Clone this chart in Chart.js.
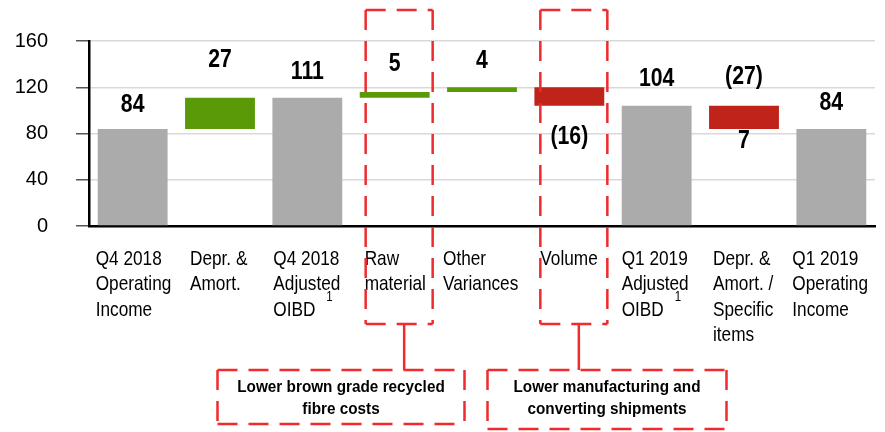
<!DOCTYPE html>
<html>
<head>
<meta charset="utf-8">
<script src="https://cdn.jsdelivr.net/npm/chart.js@4/dist/chart.umd.min.js"></script>
<style>
  html, body { margin: 0; padding: 0; background: #fff; }
  #wrap { width: 885px; height: 432px; position: relative; }
</style>
</head>
<body>
<div id="wrap"><canvas id="bridge"></canvas></div>
<script>
// Operating income bridge, Q4 2018 -> Q1 2019
var categories = [
    ['Q4 2018', 'Operating', 'Income'],
    ['Depr. &', 'Amort.'],
    ['Q4 2018', 'Adjusted', 'OIBD'],
    ['Raw', 'material'],
    ['Other', 'Variances'],
    ['Volume'],
    ['Q1 2019', 'Adjusted', 'OIBD'],
    ['Depr. &', 'Amort. /', 'Specific', 'items'],
    ['Q1 2019', 'Operating', 'Income']
];
var footnotes   = ['', '', '1', '', '', '', '1', '', ''];
var barStart    = [0, 84, 0, 111, 116, 104, 0, 84, 0];
var barEnd      = [84, 111, 111, 116, 120, 120, 104, 104, 84];
var barKind     = ['total', 'up', 'total', 'up', 'up', 'down', 'total', 'down', 'total'];
var labelsAbove = ['84', '27', '111', '5', '4', '', '104', '(27)', '84'];
var labelsBelow = ['', '', '', '', '', '(16)', '', '7', ''];
var yTicks      = [0, 40, 80, 120, 160];

var callouts = [
    { target: 3, lines: ['Lower brown grade recycled', 'fibre costs'] },
    { target: 5, lines: ['Lower manufacturing and', 'converting shipments'] }
];

var KIND_COLORS = { total: '#ABABAB', up: '#5A9A08', down: '#C0231A' };
var FONT = "'Liberation Sans', Arial, sans-serif";
var DASH_RED = '#EF2B2E';

// gap (px) between bar edge and value text
var aboveGap = [24, 38, 26, 28, 26, 0, 27, 29, 26];
var belowGap = [0, 0, 0, 0, 0, 31, 0, 12, 0];
// left edge of each category name, relative to the bar centre
var nameIndent = [-37, -30, -34, -30, -39, -29, -35, -31, -39];

// no narrow face installed, so squeeze the regular one horizontally
function narrowText(ctx, txt, x, y, squeeze) {
    ctx.save();
    ctx.translate(x, y);
    ctx.scale(squeeze, 1);
    ctx.fillText(txt, 0, 0);
    ctx.restore();
}

var valueLabels = {
    id: 'valueLabels',
    afterDatasetsDraw: function (chart) {
        var ctx = chart.ctx;
        var y = chart.scales.y;
        var meta = chart.getDatasetMeta(0);
        ctx.save();
        ctx.fillStyle = '#000';
        ctx.font = 'bold 25px ' + FONT;
        ctx.textAlign = 'center';
        ctx.textBaseline = 'middle';
        meta.data.forEach(function (bar, i) {
            var top = y.getPixelForValue(Math.max(barStart[i], barEnd[i]));
            var bottom = y.getPixelForValue(Math.min(barStart[i], barEnd[i]));
            if (labelsAbove[i]) narrowText(ctx, labelsAbove[i], bar.x, top - aboveGap[i], 0.85);
            if (labelsBelow[i]) narrowText(ctx, labelsBelow[i], bar.x, bottom + belowGap[i], 0.85);
        });
        ctx.restore();
    }
};

// multi-line category names, left aligned under each bar
var categoryLabels = {
    id: 'categoryLabels',
    afterDraw: function (chart) {
        var ctx = chart.ctx;
        var x = chart.scales.x;
        var base = chart.chartArea.bottom + 33;
        ctx.save();
        ctx.fillStyle = '#000';
        ctx.textAlign = 'left';
        ctx.textBaseline = 'middle';
        categories.forEach(function (lines, i) {
            var left = x.getPixelForValue(i) + nameIndent[i];
            ctx.font = '21px ' + FONT;
            lines.forEach(function (txt, k) {
                narrowText(ctx, txt, left, base + k * 25.5, 0.82);
            });
            if (footnotes[i]) {
                ctx.font = '14px ' + FONT;
                narrowText(ctx, footnotes[i], left + 53, base + 38, 0.82);
            }
        });
        ctx.restore();
    }
};

function dashedRect(ctx, l, t, r, b) {
    ctx.beginPath();
    ctx.moveTo(l, t); ctx.lineTo(r, t);
    ctx.moveTo(r, t); ctx.lineTo(r, b);
    ctx.moveTo(l, b); ctx.lineTo(r, b);
    ctx.moveTo(l, t); ctx.lineTo(l, b);
    ctx.stroke();
}

// dashed highlight around a category plus its explanation box
var calloutBoxes = {
    id: 'calloutBoxes',
    afterDraw: function (chart) {
        var ctx = chart.ctx;
        var x = chart.scales.x;
        ctx.save();
        ctx.strokeStyle = DASH_RED;
        ctx.lineWidth = 2.5;
        callouts.forEach(function (c) {
            var cx = x.getPixelForValue(c.target);
            var l = cx - 29, r = cx + 38, t = 10, b = 324;
            ctx.setLineDash([20, 11]);
            dashedRect(ctx, l, t, r, b);

            var joinX = (l + r) / 2 + 5;
            ctx.setLineDash([]);
            ctx.beginPath();
            ctx.moveTo(joinX, b);
            ctx.lineTo(joinX, 370);
            ctx.stroke();

            var boxW = c.target === 3 ? 247 : 239;
            var boxCx = c.target === 3 ? 341 : 607;
            ctx.setLineDash([20, 11]);
            dashedRect(ctx, boxCx - boxW / 2, 370, boxCx + boxW / 2, c.target === 3 ? 424 : 429);

            ctx.fillStyle = '#000';
            ctx.font = 'bold 17px ' + FONT;
            ctx.textAlign = 'center';
            ctx.textBaseline = 'middle';
            c.lines.forEach(function (txt, k) {
                narrowText(ctx, txt, boxCx, 387 + k * 22, 0.9);
            });
        });
        ctx.restore();
    }
};

new Chart(document.getElementById('bridge'), {
    type: 'bar',
    data: {
        labels: categories,
        datasets: [{
            data: barStart.map(function (s, i) { return [s, barEnd[i]]; }),
            backgroundColor: barKind.map(function (k) { return KIND_COLORS[k]; }),
            borderWidth: 0,
            barPercentage: 0.8,
            categoryPercentage: 1.0
        }]
    },
    options: {
        responsive: true,
        maintainAspectRatio: false,
        animation: false,
        layout: { padding: { top: 41, right: 10, bottom: 0, left: 0 } },
        plugins: {
            legend: { display: false },
            tooltip: { enabled: false }
        },
        scales: {
            x: {
                ticks: { display: false },
                grid: { drawOnChartArea: false, drawTicks: false },
                border: { color: '#000', width: 2.5 },
                afterFit: function (s) { s.height = 206; }
            },
            y: {
                min: yTicks[0],
                max: yTicks[yTicks.length - 1],
                afterBuildTicks: function (s) {
                    s.ticks = yTicks.map(function (v) { return { value: v }; });
                },
                ticks: {
                    color: '#000',
                    padding: 28,
                    font: { family: FONT, size: 20 }
                },
                grid: { color: '#D9D9D9', lineWidth: 1.5, tickColor: '#555', tickLength: 13 },
                border: { color: '#000', width: 2.5 },
                afterFit: function (s) { s.width = 89; }
            }
        }
    },
    plugins: [valueLabels, categoryLabels, calloutBoxes]
});
</script>
</body>
</html>
